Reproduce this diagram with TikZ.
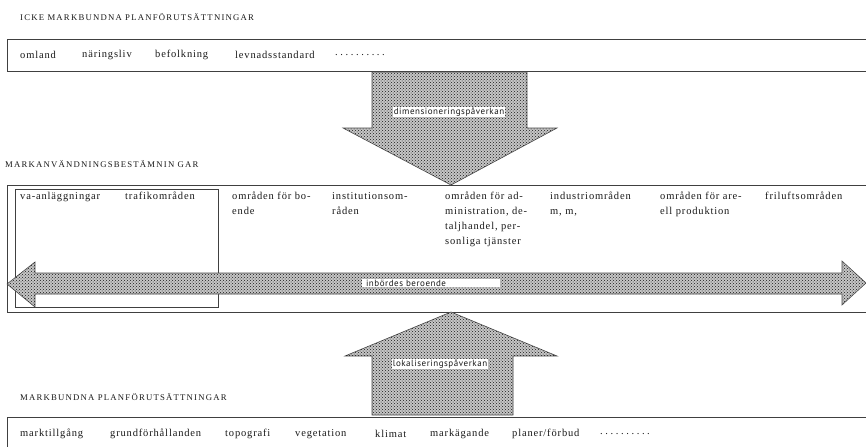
\documentclass[tikz,border=0pt]{standalone}
\usepackage{fontspec}
\setmainfont{Liberation Serif}
\newfontfamily\bodyfont[LetterSpace=8]{Liberation Serif}
\newfontfamily\capsfont[LetterSpace=14]{Liberation Serif}
\newfontfamily\tagfont[LetterSpace=6]{PT Sans}
\newcommand\dotrow{.\hspace{2.6pt}.\hspace{2.6pt}.\hspace{2.6pt}.\hspace{2.6pt}.\hspace{2.6pt}.\hspace{2.6pt}.\hspace{2.6pt}.\hspace{2.6pt}.\hspace{2.6pt}.}
\usetikzlibrary{patterns}
\begin{document}
\begin{tikzpicture}[x=1pt,y=-1pt,
  lbl/.style={font=\bodyfont\fontsize{10.5}{14}\selectfont, anchor=west, inner sep=0pt, text=black!90},
  mlbl/.style={font=\bodyfont\fontsize{10.5}{15}\selectfont, anchor=north west, inner sep=0pt, align=left, text=black!90},
  heading/.style={font=\capsfont\fontsize{8.7}{10}\selectfont, anchor=west, inner sep=0pt, text=black!90},
  frame/.style={draw=black!75, line width=0.9pt},
  bigarrow/.style={fill=gray!45, draw=black!70, line width=0.6pt,
     postaction={pattern=crosshatch dots, pattern color=black!90}},
  tag/.style={fill=white, font=\tagfont\fontsize{9}{10}\selectfont, inner sep=1.2pt, text=black!90}]
\useasboundingbox (0,0) rectangle (866,447);
\fill[white] (0,0) rectangle (866,447);

% top
\node[heading] (h1) at (20,17) {ICKE MARKBUNDNA PLANFÖRUTSÄTTNINGAR};
\draw[frame] (866,39) -- (7,39) -- (7,71) -- (866,71);
\node[lbl] (t1) at (20,55) {omland};
\node[lbl] (t2) at (82,55) {näringsliv};
\node[lbl] (t3) at (155,55) {befolkning};
\node[lbl] (t4) at (235,55) {levnadsstandard};
\node[lbl] (t5) at (335,55) {\dotrow};

% down arrow
\path[bigarrow] (372,72) -- (527,72) -- (527,128) -- (557,128) -- (451,185) -- (343,128) -- (372,128) -- cycle;
\node[tag] (dim) at (449,112) {dimensioneringspåverkan};

% middle
\node[heading] (h2) at (5,164) {MARKANVÄNDNINGSBESTÄMNIN GAR};
\draw[frame] (866,185) -- (7,185) -- (7,312) -- (866,312);
\draw[frame, line width=0.6pt] (15,189) rectangle (218,307);
\node[mlbl] (m1) at (20,192) {va-anläggningar};
\node[mlbl] (m2) at (125,192) {trafikområden};
\node[mlbl] (m3) at (232,192) {områden för bo-\\ende};
\node[mlbl] (m4) at (332,192) {institutionsom-\\råden};
\node[mlbl] (m5) at (445,192) {områden för ad-\\ministration, de-\\taljhandel, per-\\sonliga tjänster};
\node[mlbl] (m6) at (550,192) {industriområden\\m, m,};
\node[mlbl] (m7) at (660,192) {områden för are-\\ell produktion};
\node[mlbl] (m8) at (765,192) {friluftsområden};

% double arrow
\path[bigarrow] (7,284) -- (35,262) -- (35,273) -- (842,273) -- (842,261) -- (866,283) -- (842,305) -- (842,294) -- (35,294) -- (35,307) -- cycle;
\node[tag, minimum width=138pt, text width=130pt, align=left] (inb) at (431,283) {inbördes beroende};

% up arrow
\path[bigarrow] (372,415) -- (372,356) -- (345,356) -- (451,312) -- (557,356) -- (513,356) -- (513,415) -- cycle;
\node[tag] (lok) at (440,364) {lokaliseringspåverkan};

% bottom
\node[heading] (h3) at (20,397) {MARKBUNDNA PLANFÖRUTSÄTTNINGAR};
\draw[frame] (866,417) -- (7,417) -- (7,447);
\node[lbl] (b1) at (20,434) {marktillgång};
\node[lbl] (b2) at (110,434) {grundförhållanden};
\node[lbl] (b3) at (225,434) {topografi};
\node[lbl] (b4) at (295,434) {vegetation};
\node[lbl] (b5) at (375,434) {klimat};
\node[lbl] (b6) at (430,434) {markägande};
\node[lbl] (b7) at (512,434) {planer/förbud};
\node[lbl] (b8) at (600,434) {\dotrow};
\end{tikzpicture}
\end{document}
